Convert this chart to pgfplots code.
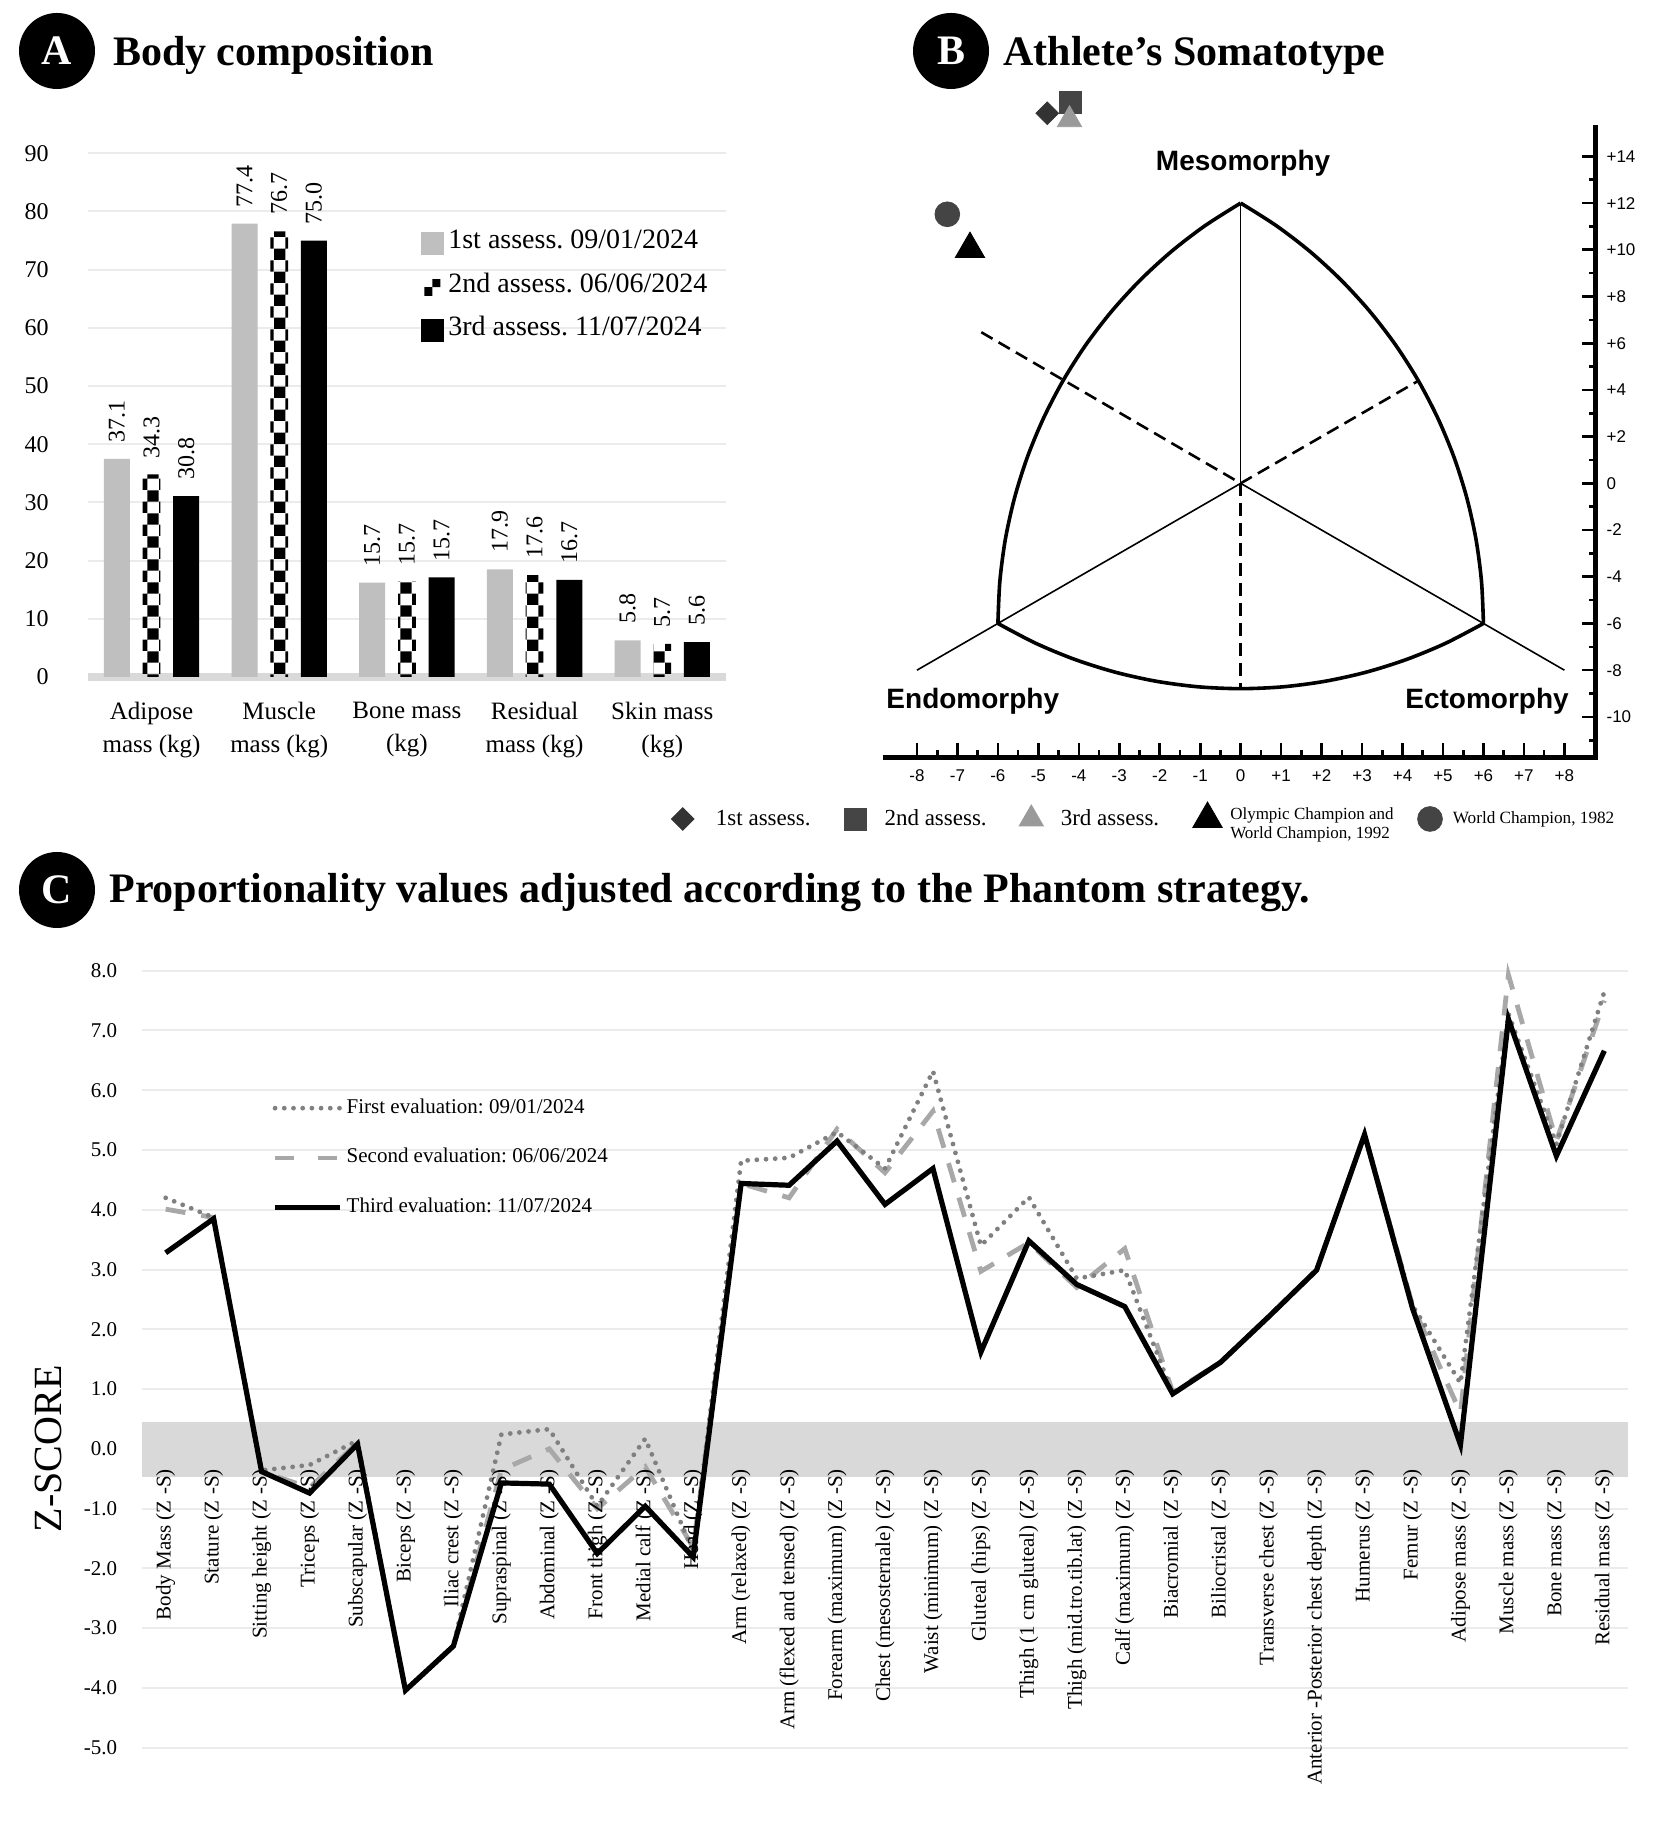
\documentclass[border=0pt]{standalone}
\usepackage{fontspec}
\setmainfont{Liberation Serif}
\setsansfont{Liberation Sans}
\usepackage{pgfplots}
\pgfplotsset{compat=1.18}
\usetikzlibrary{patterns}
\frenchspacing

\definecolor{barg}{HTML}{BFBFBF}
\definecolor{gridc}{HTML}{EBEBEB}
\definecolor{band}{HTML}{D9D9D9}
\definecolor{mk1}{HTML}{333333}
\definecolor{mk2}{HTML}{454545}
\definecolor{mk3}{HTML}{9A9A9A}
\definecolor{wc}{HTML}{444444}
\definecolor{ev1}{HTML}{808080}
\definecolor{ev2}{HTML}{A8A8A8}

\pgfplotsset{
  /pgf/number format/assume math mode=true,
  legbar/.style={legend image code/.code={\fill[##1] (0pt,-5.75pt) rectangle (11.5pt,5.75pt);}},
  legchk/.style={legend image code/.code={\fill[##1] (1.5pt,-4pt) rectangle (9.5pt,4pt);}},
  legmk/.style={legend image code/.code={\draw[##1] plot coordinates {(0pt,0pt)};}},
}

\newcommand{\titlefont}{\fontsize{21}{25}\selectfont\bfseries}

\begin{document}
\begin{tikzpicture}
\useasboundingbox (0,0) rectangle (835pt,917.5pt);

% panel titles
\node[circle, fill=black, minimum size=38pt, inner sep=0pt, text=white, font=\titlefont] at (28.5pt,892pt) {A};
\node[anchor=base west, inner sep=0pt, font=\titlefont] at (56.3pt,884.9pt) {Body composition};
\node[circle, fill=black, minimum size=38pt, inner sep=0pt, text=white, font=\titlefont] at (475.5pt,892pt) {B};
\node[anchor=base west, inner sep=0pt, font=\titlefont] at (501.5pt,884.9pt) {Athlete's Somatotype};
\node[circle, fill=black, minimum size=38pt, inner sep=0pt, text=white, font=\titlefont] at (28.5pt,472.5pt) {C};
\node[anchor=base west, inner sep=0pt, font=\titlefont] at (54.5pt,466pt) {Proportionality values adjusted according to the Phantom strategy.};

% ---------------- A: body composition ----------------
\begin{axis}[
  at={(43.85pt,579pt)}, anchor=south west,
  scale only axis, width=319.2pt, height=261.85pt,
  xmin=-0.5, xmax=4.5, ymin=0, ymax=90,
  ytick={0,10,...,90},
  xtick={0,...,4},
  xticklabels={{Adipose\\mass (kg)},{Muscle\\mass (kg)},{Bone mass\\(kg)},{Residual\\mass (kg)},{Skin mass\\(kg)}},
  xticklabel style={align=center, font=\fontsize{12.5}{16.5}\selectfont, yshift=-9pt},
  yticklabel style={font=\fontsize{12}{14}\selectfont, xshift=-16pt},
  axis line style={draw=none}, major tick length=0pt,
  ymajorgrids, grid style={gridc, line width=1pt},
  extra y ticks={0}, extra y tick labels={},
  extra y tick style={grid style={band, line width=4pt}},
  ybar,
  nodes near coords, point meta=explicit symbolic,
  every node near coord/.append style={rotate=90, anchor=west, font=\fontsize{12}{14}\selectfont, inner xsep=8pt, inner ysep=0pt},
  legend style={at={(axis description cs:0.522,0.744)}, anchor=west, draw=none, fill=none,
    inner sep=0pt, font=\fontsize{14}{16}\selectfont, row sep=11.5pt,
    nodes={inner sep=0pt, text height=0.7em, text depth=0.2em},
    /tikz/every odd column/.append style={column sep=2pt}},
  legend cell align=left,
  clip=false,
]
\addplot[fill=barg, draw=none, bar width=13pt, bar shift=-17.35pt, legbar]
  coordinates {(0,37.5)[37.1] (1,77.9)[77.4] (2,16.2)[15.7] (3,18.5)[17.9] (4,6.3)[5.8]};
\addlegendentry{1st assess. 09/01/2024}
\addplot[pattern=checkerboard, pattern color=black, draw=none, bar width=8.85pt, bar shift=0pt, legchk]
  coordinates {(0,34.8)[34.3] (1,76.6)[76.7] (2,16.4)[15.7] (3,17.5)[17.6] (4,5.7)[5.7]};
\addlegendentry{2nd assess. 06/06/2024}
\addplot[fill=black, draw=none, bar width=13pt, bar shift=17.35pt, legbar]
  coordinates {(0,31.1)[30.8] (1,75.0)[75.0] (2,17.1)[15.7] (3,16.7)[16.7] (4,6.0)[5.6]};
\addlegendentry{3rd assess. 11/07/2024}
\end{axis}

% ---------------- B: somatochart ----------------
\begin{axis}[
  at={(442.9pt,538.85pt)}, anchor=south west,
  scale only axis, width=354.85pt, height=315.05pt,
  xmin=-8.77, xmax=8.77, ymin=-11.73, ymax=15.25,
  axis x line=bottom, axis y line=right,
  axis line style={-, line width=2.6pt, line cap=rect},
  tick align=inside,
  major tick length=7pt, minor tick length=3.5pt,
  tick style={black, line width=1.3pt},
  xtick={-8,...,8},
  xticklabels={-8,-7,-6,-5,-4,-3,-2,-1,0,+1,+2,+3,+4,+5,+6,+7,+8},
  minor xtick={-7.5,-6.5,...,7.5},
  ytick={-10,-8,...,14},
  yticklabels={-10,-8,-6,-4,-2,0,+2,+4,+6,+8,+10,+12,+14},
  minor ytick={-11,-9,...,13},
  xticklabel style={font=\sffamily\fontsize{8.5}{10}\selectfont, yshift=-2.5pt},
  yticklabel style={font=\sffamily\fontsize{8.5}{10}\selectfont, xshift=2pt},
  clip=false,
  legend columns=5,
  legend style={at={(axis description cs:-0.3027,-0.0979)}, anchor=west, draw=none, fill=none,
    inner sep=0pt, font=\fontsize{11.5}{13}\selectfont,
    /tikz/column 1/.style={column sep=9pt},
    /tikz/column 2/.style={column sep=14.8pt},
    /tikz/column 3/.style={column sep=7.2pt},
    /tikz/column 4/.style={column sep=14.2pt},
    /tikz/column 5/.style={column sep=6.7pt},
    /tikz/column 6/.style={column sep=14.8pt},
    /tikz/column 7/.style={column sep=2pt},
    /tikz/column 8/.style={column sep=10pt},
    /tikz/column 9/.style={column sep=3.2pt}},
]
% frame of the chart: three arcs of the somatochart
\addplot[black, line width=1.8pt, smooth, forget plot] coordinates {
  (-6.000,-6.000) (-5.951,-4.188) (-5.815,-2.389) (-5.588,-0.618) (-5.274,1.111)
  (-4.873,2.787) (-4.390,4.396) (-3.828,5.926) (-3.190,7.365) (-2.483,8.702)
  (-1.712,9.928) (-0.881,11.032) (0,12.0)};
\addplot[black, line width=1.8pt, smooth, forget plot] coordinates {
  (6.000,-6.000) (5.951,-4.188) (5.815,-2.389) (5.588,-0.618) (5.274,1.111)
  (4.873,2.787) (4.390,4.396) (3.828,5.926) (3.190,7.365) (2.483,8.702)
  (1.712,9.928) (0.881,11.032) (0,12.0)};
\addplot[black, line width=1.8pt, smooth, forget plot] coordinates {
  (-6.000,-6.000) (-5.070,-6.844) (-4.103,-7.538) (-3.105,-8.084) (-2.083,-8.476)
  (-1.046,-8.713) (0,-8.792) (1.046,-8.713) (2.083,-8.476) (3.105,-8.084)
  (4.103,-7.538) (5.070,-6.844) (6.000,-6.000)};
\addplot[black, line width=0.8pt, forget plot] coordinates {(0,12) (0,0)};
\addplot[black, line width=0.8pt, forget plot] coordinates {(-8,-8) (0,0) (8,-8)};
\addplot[black, line width=1.3pt, dash pattern=on 6.5pt off 3.5pt, forget plot] coordinates {(0,0) (0,-8.79)};
\addplot[black, line width=1.3pt, dash pattern=on 6.5pt off 3.5pt, forget plot] coordinates {(-6.41,6.47) (0,0) (4.39,4.39)};
% somatotypes
\addplot[only marks, mark=square*, mark size=4pt, mark options={rotate=45, fill=mk1, draw=mk1, rounded corners=1.2pt}, legmk]
  coordinates {(-4.78,15.85)};
\addlegendentry{1st assess.}
\addplot[only marks, mark=square*, mark size=5.5pt, mark options={fill=mk2, draw=mk2, rounded corners=2pt}, legmk]
  coordinates {(-4.20,16.31)};
\addlegendentry{2nd assess.}
\addplot[only marks, mark=triangle*, mark size=7pt, mark options={fill=mk3, draw=mk3, rounded corners=2pt}, legmk]
  coordinates {(-4.23,15.57)};
\addlegendentry{3rd assess.}
\addplot[only marks, mark=triangle*, mark size=8.5pt, mark options={fill=black, draw=black}, legmk]
  coordinates {(-6.69,10.03)};
\addlegendentry{\fontsize{8.5}{9.6}\selectfont\begin{tabular}[c]{@{}l@{}}Olympic Champion and\\World Champion, 1992\end{tabular}}
\addplot[only marks, mark=*, mark size=6.2pt, mark options={fill=wc, draw=wc}, legmk]
  coordinates {(-7.25,11.52)};
\addlegendentry{\fontsize{8.6}{10}\selectfont World Champion, 1982}
\node[font=\sffamily\bfseries\fontsize{14}{16}\selectfont] at (axis cs:0.06,13.7) {Mesomorphy};
\node[font=\sffamily\bfseries\fontsize{14}{16}\selectfont] at (axis cs:-6.62,-9.35) {Endomorphy};
\node[font=\sffamily\bfseries\fontsize{14}{16}\selectfont] at (axis cs:6.09,-9.35) {Ectomorphy};
\end{axis}

% ---------------- C: Phantom z-scores ----------------
\begin{axis}[
  at={(70.85pt,43.65pt)}, anchor=south west,
  scale only axis, width=743.3pt, height=388.5pt,
  xmin=-0.5, xmax=30.5, ymin=-5, ymax=8,
  axis line style={draw=none}, major tick length=0pt,
  xtick=\empty,
  ytick={-5,...,8},
  yticklabels={-5.0,-4.0,-3.0,-2.0,-1.0,0.0,1.0,2.0,3.0,4.0,5.0,6.0,7.0,8.0},
  ymajorgrids, grid style={gridc, line width=1pt},
  extra y ticks={-0.01}, extra y tick labels={},
  extra y tick style={grid style={band, line width=27.5pt}},
  yticklabel style={font=\fontsize{10.5}{12.6}\selectfont, xshift=-8.7pt},
  ylabel={Z-SCORE},
  every axis y label/.style={at={(axis description cs:-0.0624,0.3846)}, rotate=90, anchor=center, font=\fontsize{20}{24}\selectfont},
  clip=false,
  legend style={at={(axis description cs:0.0877,0.759)}, anchor=west, draw=none, fill=none,
    inner sep=0pt, font=\fontsize{10.5}{12.6}\selectfont, row sep=15.9pt,
    nodes={inner sep=0pt, text height=0.7em, text depth=0.2em},
    /tikz/every odd column/.append style={column sep=2pt}},
  legend cell align=left,
  legend image code/.code={\draw[#1] (0pt,0pt) -- (32.5pt,0pt);},
]
\addlegendimage{ev1, line width=2.4pt, line cap=round, dash pattern=on 0pt off 4.6pt}
\addlegendentry{First evaluation: 09/01/2024}
\addlegendimage{ev2, line width=2.4pt, dash pattern=on 9.5pt off 12pt}
\addlegendentry{Second evaluation: 06/06/2024}
\addlegendimage{black, line width=2.6pt}
\addlegendentry{Third evaluation: 11/07/2024}

% category names, hanging below the zero line
\addplot[draw=none, forget plot, nodes near coords, point meta=explicit symbolic,
  every node near coord/.append style={rotate=90, anchor=east, inner xsep=10pt, inner ysep=0pt,
    font=\fontsize{10.5}{12.6}\selectfont, text=black}]
  coordinates {
  (0,0) [Body Mass (Z -S)] (1,0) [Stature (Z -S)] (2,0) [Sitting height (Z -S)]
  (3,0) [Triceps (Z -S)] (4,0) [Subscapular (Z -S)] (5,0) [Biceps (Z -S)]
  (6,0) [Iliac crest (Z -S)] (7,0) [Supraspinal (Z -S)] (8,0) [Abdominal (Z -S)]
  (9,0) [Front thigh (Z -S)] (10,0) [Medial calf (Z -S)] (11,0) [Head (Z -S)]
  (12,0) [Arm (relaxed) (Z -S)] (13,0) [Arm (flexed and tensed) (Z -S)]
  (14,0) [Forearm (maximum) (Z -S)] (15,0) [Chest (mesosternale) (Z -S)]
  (16,0) [Waist (minimum) (Z -S)] (17,0) [Gluteal (hips) (Z -S)]
  (18,0) [Thigh (1 cm gluteal) (Z -S)] (19,0) [Thigh (mid.tro.tib.lat) (Z -S)]
  (20,0) [Calf (maximum) (Z -S)] (21,0) [Biacromial (Z -S)] (22,0) [Biliocristal (Z -S)]
  (23,0) [Transverse chest (Z -S)] (24,0) [Anterior -Posterior chest depth (Z -S)]
  (25,0) [Humerus (Z -S)] (26,0) [Femur (Z -S)] (27,0) [Adipose mass (Z -S)]
  (28,0) [Muscle mass (Z -S)] (29,0) [Bone mass (Z -S)] (30,0) [Residual mass (Z -S)]};

% second evaluation
\addplot[ev2, line width=2.4pt, dash pattern=on 10pt off 8pt, forget plot] coordinates {
 (0,4.01) (1,3.87) (2,-0.38) (3,-0.65) (4,0.10) (5,-4.04) (6,-3.30) (7,-0.35) (8,0.00)
 (9,-1.00) (10,-0.30) (11,-1.65) (12,4.44) (13,4.20) (14,5.35) (15,4.62) (16,5.65)
 (17,2.97) (18,3.45) (19,2.70) (20,3.35) (21,0.95) (22,1.45) (23,2.21) (24,2.99)
 (25,5.26) (26,2.40) (27,0.60) (28,7.93) (29,5.15) (30,7.50)};
% first evaluation
\addplot[ev1, line width=2.4pt, line cap=round, dash pattern=on 0pt off 4.6pt, forget plot] coordinates {
 (0,4.20) (1,3.87) (2,-0.36) (3,-0.27) (4,0.14) (5,-4.04) (6,-3.30) (7,0.24) (8,0.33)
 (9,-0.96) (10,0.17) (11,-1.72) (12,4.82) (13,4.87) (14,5.30) (15,4.69) (16,6.32)
 (17,3.40) (18,4.21) (19,2.85) (20,2.99) (21,0.92) (22,1.45) (23,2.21) (24,2.99)
 (25,5.26) (26,2.40) (27,1.10) (28,7.28) (29,5.10) (30,7.65)};
% third evaluation
\addplot[black, line width=2.6pt, forget plot] coordinates {
 (0,3.28) (1,3.85) (2,-0.38) (3,-0.74) (4,0.08) (5,-4.04) (6,-3.30) (7,-0.57) (8,-0.59)
 (9,-1.75) (10,-0.96) (11,-1.81) (12,4.44) (13,4.41) (14,5.15) (15,4.09) (16,4.69)
 (17,1.62) (18,3.48) (19,2.75) (20,2.38) (21,0.92) (22,1.45) (23,2.21) (24,2.99)
 (25,5.26) (26,2.35) (27,0.07) (28,7.19) (29,4.90) (30,6.66)};
\end{axis}
\end{tikzpicture}
\end{document}
